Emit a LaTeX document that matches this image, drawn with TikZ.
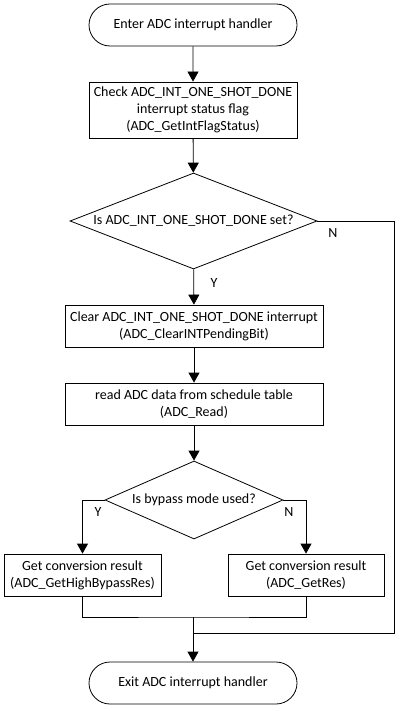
\documentclass[tikz,border=0pt]{standalone}
\usepackage{fontspec}
\setmainfont{Carlito}
\usetikzlibrary{arrows.meta,shapes.geometric,shapes.misc}
\begin{document}
\begin{tikzpicture}[x=1pt,y=-1pt,
  every node/.style={font=\fontsize{14}{17}\selectfont, align=center, inner sep=0pt},
  term/.style={draw, rounded rectangle, minimum width=208pt, minimum height=42pt, line width=0.8pt},
  proc/.style={draw, rectangle, minimum height=42pt, line width=0.8pt},
  dec/.style={draw, diamond, line width=0.8pt},
  flow/.style={line width=0.8pt, -{Triangle[width=11pt,length=10pt]}},
  link/.style={line width=0.8pt},
  tag/.style={font=\fontsize{14}{17}\selectfont}
]
\useasboundingbox[fill=white] (0,0) rectangle (406,711);

% main column
\node[term] (start) at (193,25) {Enter ADC interrupt handler};
\node[proc, minimum width=208pt, minimum height=56pt] (check) at (193,110)
  {Check ADC\_INT\_ONE\_SHOT\_DONE\\interrupt status flag\\(ADC\_GetIntFlagStatus)};
\node[dec, minimum width=247pt, minimum height=96pt,
  label={center:Is ADC\_INT\_ONE\_SHOT\_DONE set?}] (q1) at (193.5,221) {};
\node[proc, minimum width=258pt] (clear) at (194,326)
  {Clear ADC\_INT\_ONE\_SHOT\_DONE interrupt\\(ADC\_ClearINTPendingBit)};
\node[proc, minimum width=258pt] (read) at (194,404)
  {read ADC data from schedule table\\(ADC\_Read)};
\node[dec, minimum width=178pt, minimum height=78pt,
  label={center:Is bypass mode used?}] (q2) at (194,500) {};
\node[proc, minimum width=157pt] (resL) at (82.5,575)
  {Get conversion result\\(ADC\_GetHighBypassRes)};
\node[proc, minimum width=156pt] (resR) at (306,575)
  {Get conversion result\\(ADC\_GetRes)};
\node[term] (exit) at (193,683) {Exit ADC interrupt handler};

% junction points
\coordinate (skip) at (394,633);
\coordinate (join) at (193,617);
\coordinate (merge) at (193,633);

% connectors
\draw[flow] (start) -- (check);
\draw[flow] (check) -- (q1);
\draw[flow] (q1) -- (clear);
\draw[flow] (clear) -- (read);
\draw[flow] (read) -- (q2);
\draw[flow] (q2.west) -| (resL.north);
\draw[flow] (q2.east) -| (resR.north);
\draw[link] (q1.east) -| (skip) -- (merge);
\draw[link] (resL.south) |- (join) -| (resR.south);
\draw[flow] (join) -- (exit);

% branch labels
\node[tag] (yA) at (214,283) {Y};
\node[tag] (nA) at (333,233) {N};
\node[tag] (yB) at (98,512) {Y};
\node[tag] (nB) at (289,512) {N};
\end{tikzpicture}
\end{document}
